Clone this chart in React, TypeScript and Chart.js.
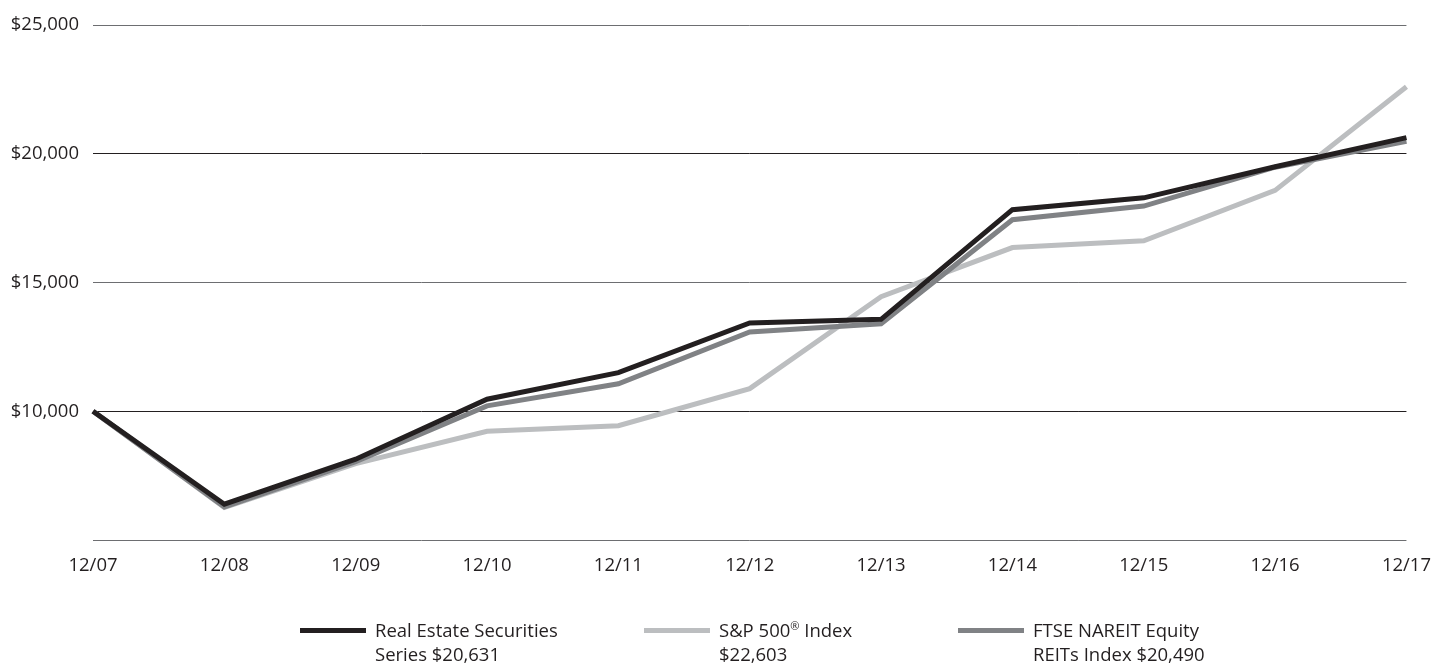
import React, { useEffect, useRef } from "react";
import { Chart, registerables } from "chart.js";

Chart.register(...registerables);

const categories = ["12/07", "12/08", "12/09", "12/10", "12/11", "12/12", "12/13", "12/14", "12/15", "12/16", "12/17"];
const realEstate = [10000, 6390, 8140, 10470, 11500, 13430, 13570, 17830, 18290, 19500, 20631];
const sp500 = [10000, 6260, 7970, 9220, 9440, 10880, 14450, 16360, 16620, 18580, 22603];
const ftse = [10000, 6280, 8040, 10210, 11070, 13080, 13400, 17440, 17970, 19480, 20490];
const yTicks = [5000, 10000, 15000, 20000, 25000];

const seriesNames = ["Real Estate Securities Series", "S&P 500® Index", "FTSE NAREIT Equity REITs Index"];
const legendLine1 = ["Real Estate Securities", "S&P 500", "FTSE NAREIT Equity"];
const legendLine1Sup = ["", "®", ""];
const legendLine1Tail = ["", " Index", ""];
const legendLine2 = ["Series $20,631", "$22,603", "REITs Index $20,490"];
const colors = ["#231f20", "#bcbec0", "#808285"];
const legendLeft = [300, 644, 958];

const FONT = "'Open Sans', 'DejaVu Sans', sans-serif";

export default function App() {
  const ref = useRef<HTMLCanvasElement | null>(null);
  useEffect(() => {
    if (!ref.current) return;
    const chart = new Chart(ref.current, {
      type: "line",
      data: {
        labels: categories,
        datasets: [
          { label: seriesNames[0], data: realEstate, borderColor: colors[0], order: 1 },
          { label: seriesNames[1], data: sp500, borderColor: colors[1], order: 3 },
          { label: seriesNames[2], data: ftse, borderColor: colors[2], order: 2 },
        ].map((d) => ({
          ...d,
          borderWidth: 5,
          pointRadius: 0,
          tension: 0,
          fill: false,
          borderJoinStyle: "miter" as const,
          borderCapStyle: "butt" as const,
        })),
      },
      options: {
        animation: false,
        responsive: true,
        maintainAspectRatio: false,
        layout: { padding: { left: 0, right: 38, top: 22, bottom: 0 } },
        plugins: { legend: { display: false }, tooltip: { enabled: false } },
        scales: {
          x: {
            type: "category",
            offset: false,
            grid: { display: false, drawTicks: false },
            border: { display: false },
            ticks: {
              color: "#231f20",
              font: { family: FONT, size: 18.5 },
              padding: 15,
              maxRotation: 0,
              autoSkip: false,
            },
            afterFit: (scale: any) => {
              scale.height = 124;
            },
          },
          y: {
            min: 5000,
            max: 25000,
            afterBuildTicks: (scale: any) => {
              scale.ticks = yTicks.map((v) => ({ value: v }));
            },
            grid: {
              drawTicks: false,
              lineWidth: 1,
              color: (ctx: any) => {
                const v = ctx.tick ? ctx.tick.value : 0;
                return v === 10000 || v === 20000 ? "#231f20" : "#6d6e71";
              },
            },
            border: { display: false },
            ticks: {
              color: "#231f20",
              font: { family: FONT, size: 18.5 },
              padding: 14,
              callback: (v: any) => (Number(v) === 5000 ? "" : "$" + Number(v).toLocaleString("en-US")),
            },
            afterFit: (scale: any) => {
              scale.width = 93;
            },
          },
        },
      },
    });
    return () => chart.destroy();
  }, []);

  return (
    <div style={{ position: "absolute", left: 0, top: 0, width: 1446, height: 664, background: "#fff", fontFamily: FONT }}>
      <canvas ref={ref} />
      {seriesNames.map((name, i) => (
        <div key={name} style={{ position: "absolute", left: legendLeft[i], top: 618, display: "flex", alignItems: "flex-start" }}>
          <div style={{ width: 66, height: 5, background: colors[i], marginTop: 10, marginRight: 9 }} />
          <div style={{ fontSize: 18.5, lineHeight: "24px", color: "#231f20", whiteSpace: "nowrap" }}>
            <div>
              {legendLine1[i]}
              {legendLine1Sup[i] ? <sup style={{ fontSize: 11, lineHeight: 0 }}>{legendLine1Sup[i]}</sup> : null}
              {legendLine1Tail[i]}
            </div>
            <div>{legendLine2[i]}</div>
          </div>
        </div>
      ))}
    </div>
  );
}
